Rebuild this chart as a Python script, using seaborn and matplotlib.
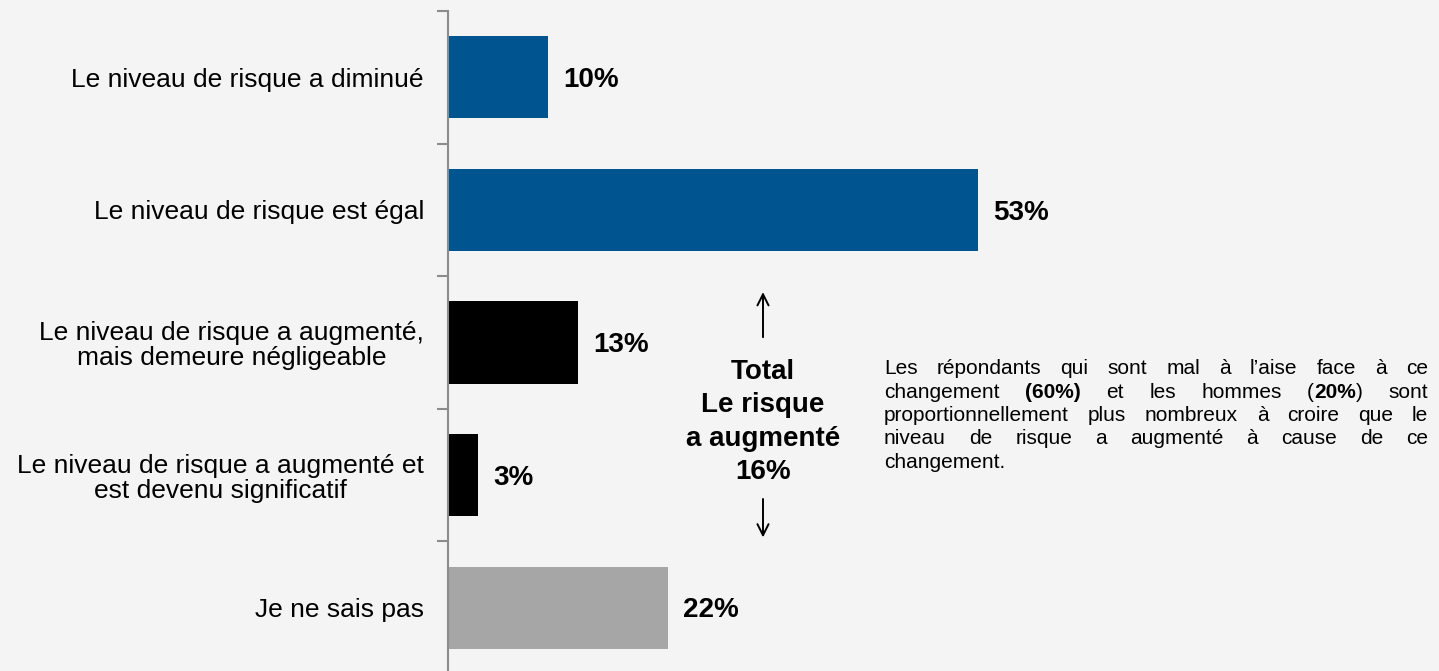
import matplotlib
matplotlib.use("Agg")
import matplotlib.pyplot as plt
import seaborn as sns
import pandas as pd
from matplotlib.transforms import IdentityTransform

# ---------------- data ----------------
categories = [
    "Le niveau de risque a diminué",
    "Le niveau de risque est égal",
    "Le niveau de risque a augmenté,\nmais demeure négligeable",
    "Le niveau de risque a augmenté et\nest devenu significatif",
    "Je ne sais pas",
]
values = [10, 53, 13, 3, 22]
value_labels = ["10%", "53%", "13%", "3%", "22%"]
bar_colors = ["#00548f", "#00548f", "#000000", "#000000", "#a6a6a6"]
total_label = "Total\nLe risque\na augmenté\n16%"
note_lines = [
    "Les répondants qui sont mal à l’aise face à ce",
    "changement **(60%)** et les hommes (**20%**) sont",
    "proportionnellement plus nombreux à croire que le",
    "niveau de risque a augmenté à cause de ce",
    "changement.",
]

# ---------------- style ----------------
sns.set_theme(style="white")
plt.rcParams["font.family"] = ["Liberation Sans", "DejaVu Sans"]

W, H = 1439, 671
fig = plt.figure(figsize=(W / 100, H / 100), dpi=100, facecolor="#f4f4f4")
ax = fig.add_axes([447.5 / W, 1 - 674 / H, 1 - 447.5 / W, 663 / H])
ax.patch.set_alpha(0)

df = pd.DataFrame({"cat": categories, "val": values})
sns.barplot(data=df, x="val", y="cat", hue="cat",
            palette=dict(zip(categories, bar_colors)), legend=False,
            orient="h", width=0.62, saturation=1, linewidth=0, ax=ax)

ax.set_xlim(0, 99.15)
ax.set_ylim(4.5, -0.5)
ax.set_xlabel("")
ax.set_ylabel("")
for s in ["top", "right", "bottom"]:
    ax.spines[s].set_visible(False)
ax.spines["left"].set_color("#8c8c8c")
ax.spines["left"].set_linewidth(1.5)
ax.set_xticks([])

ax.tick_params(axis="y", which="major", length=0, pad=17, labelsize=19,
               labelcolor="black")
for lbl in ax.get_yticklabels():
    lbl.set_multialignment("center")
    lbl.set_linespacing(1.05)
ax.set_yticks([i - 0.5 for i in range(len(categories) + 1)], minor=True)
ax.tick_params(axis="y", which="minor", length=8, width=1.5, color="#8c8c8c",
               direction="out", left=True)

# value labels
for i, (v, lab) in enumerate(zip(values, value_labels)):
    ax.annotate(lab, (v, i), xytext=(11.5, -2), textcoords="offset points",
                ha="left", va="center", fontsize=20, fontweight="bold",
                color="black")

# total block with arrows
tx = 31.55
ax.text(tx, 2.6, total_label, ha="center", va="center", fontsize=20,
        fontweight="bold", linespacing=1.37, color="black")
ax.annotate("", xy=(tx, 1.62), xytext=(tx, 1.96),
            arrowprops=dict(arrowstyle="->", color="black", lw=1.4,
                            mutation_scale=20, shrinkA=0, shrinkB=0))
ax.annotate("", xy=(tx, 3.47), xytext=(tx, 3.18),
            arrowprops=dict(arrowstyle="->", color="black", lw=1.4,
                            mutation_scale=20, shrinkA=0, shrinkB=0))

# justified note paragraph
renderer = fig.canvas.get_renderer()
x0, x1 = 884, 1428
baselines = [374, 397.5, 421, 444.5, 468]


def parse_word(word):
    parts = []
    bold = False
    for k, seg in enumerate(word.split("**")):
        if k > 0:
            bold = not bold
        if seg:
            parts.append((seg, bold))
    return parts


for li, line in enumerate(note_lines):
    words = [parse_word(w) for w in line.split(" ")]
    items, widths = [], []
    for word in words:
        parts, wsum = [], 0
        for txt, bold in word:
            t = fig.text(0, 0, txt, fontsize=15,
                         fontweight="bold" if bold else "normal",
                         transform=IdentityTransform(), ha="left",
                         va="baseline", color="black")
            w = t.get_window_extent(renderer).width
            parts.append((t, w))
            wsum += w
        items.append(parts)
        widths.append(wsum)
    if li == len(note_lines) - 1 or len(words) == 1:
        gap = 5
    else:
        gap = (x1 - x0 - sum(widths)) / (len(words) - 1)
    x = x0
    for parts, w in zip(items, widths):
        for t, pw in parts:
            t.set_position((x, H - baselines[li]))
            x += pw
        x += gap

fig.savefig("out.png", dpi=100, facecolor=fig.get_facecolor())
